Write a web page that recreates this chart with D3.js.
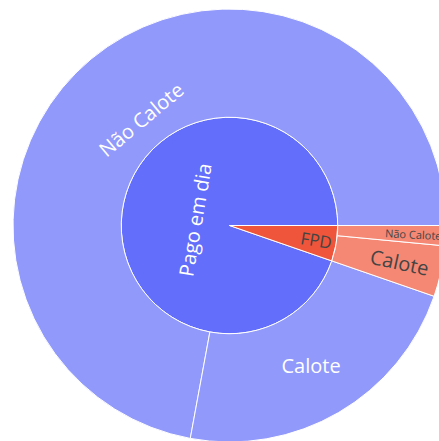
<!DOCTYPE html>
<html>
<head>
<meta charset="utf-8">
<script src="https://cdn.jsdelivr.net/npm/d3@7"></script>
<style>
  html, body { margin: 0; padding: 0; background: #fff; }
  svg { display: block; }
</style>
</head>
<body>
<svg id="chart" width="439" height="441"></svg>
<script>
// Payment status (inner ring) and outcome (outer ring), in % of contracts
const statuses = ["Pago em dia", "FPD"];
const outcomes = ["Não Calote", "Calote"];
const pagoEmDiaValues = [72.1, 22.6];   // Não Calote, Calote
const fpdValues = [1.5, 3.8];           // Não Calote, Calote
const colorway = ["#636efa", "#EF553B"];

const seriesByStatus = [pagoEmDiaValues, fpdValues];

const tree = {
  name: "root",
  children: statuses.map((s, i) => ({
    name: s,
    id: s,
    children: outcomes.map((o, j) => ({ name: o, id: s + "/" + o, value: seriesByStatus[i][j] }))
  }))
};

// Label placement: distance from centre, orientation and font size
const labelStyle = {
  "Pago em dia":            { r: 35,  orient: "tangential", size: 20 },
  "FPD":                    { r: 88,  orient: "radial",     size: 17 },
  "Pago em dia/Não Calote": { r: 138, orient: "tangential", size: 20 },
  "Pago em dia/Calote":     { r: 162, orient: "horizontal", size: 20 },
  "FPD/Calote":             { r: 174, orient: "radial",     size: 20 },
  "FPD/Não Calote":         { r: 184, orient: "radial",     size: 11 }
};

const cx = 229.5, cy = 225.5, R = 216.5;

const root = d3.hierarchy(tree)
  .sum(d => d.value || 0)
  .sort((a, b) => b.value - a.value);

// x: angle counter-clockwise from 3 o'clock, y: ring depth
d3.partition().size([2 * Math.PI, 3])(root);

const rScale = d3.scaleLinear().domain([1, 3]).range([0, R]);

const arc = d3.arc()
  .startAngle(d => Math.PI / 2 - d.x1)
  .endAngle(d => Math.PI / 2 - d.x0)
  .innerRadius(d => rScale(d.y0))
  .outerRadius(d => rScale(d.y1));

const topColor = d => {
  let n = d;
  while (n.depth > 1) n = n.parent;
  return colorway[statuses.indexOf(n.data.name)];
};

const svg = d3.select("#chart");
const g = svg.append("g").attr("transform", `translate(${cx},${cy})`);

const nodes = root.descendants().filter(d => d.depth > 0);

g.selectAll("path.slice")
  .data(nodes)
  .join("path")
  .attr("class", "slice")
  .attr("d", arc)
  .attr("fill", topColor)
  .attr("fill-opacity", d => d.children ? 1 : 0.7)
  .attr("stroke", "#fff")
  .attr("stroke-width", 1);

function normRot(a) {
  a = ((a % 360) + 360) % 360;
  if (a > 180) a -= 360;
  if (a > 90) a -= 180;
  if (a <= -90) a += 180;
  return a;
}

function textColor(c) {
  const rgb = d3.rgb(c);
  const brightness = (rgb.r * 299 + rgb.g * 587 + rgb.b * 114) / 1000;
  return brightness >= 128 ? "#444" : "#fff";
}

g.selectAll("text.label")
  .data(nodes)
  .join("text")
  .attr("class", "label")
  .attr("transform", d => {
    const st = labelStyle[d.data.id];
    const mid = (d.x0 + d.x1) / 2;
    const midDeg = mid * 180 / Math.PI;
    const x = st.r * Math.cos(mid);
    const y = -st.r * Math.sin(mid);
    let rot = 0;
    if (st.orient === "tangential") rot = normRot(90 - midDeg);
    else if (st.orient === "radial") rot = normRot(-midDeg);
    return `translate(${x},${y}) rotate(${rot})`;
  })
  .attr("text-anchor", "middle")
  .attr("dominant-baseline", "central")
  .attr("font-family", "'Open Sans', verdana, arial, sans-serif")
  .attr("font-size", d => labelStyle[d.data.id].size)
  .attr("fill", d => textColor(topColor(d)))
  .text(d => d.data.name);
</script>
</body>
</html>
